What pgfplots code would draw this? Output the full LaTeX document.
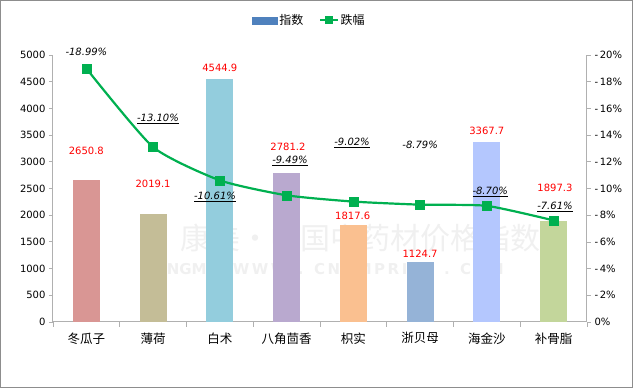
\documentclass[border=0pt]{standalone}
\usepackage{pgfplots}
\pgfplotsset{compat=1.18}
\usepackage{fontspec}
\setmainfont{DejaVu Sans}
\newfontfamily\cjk{Noto Sans CJK SC}
\definecolor{c1}{HTML}{D99694}
\definecolor{c2}{HTML}{C4BD97}
\definecolor{c3}{HTML}{93CDDD}
\definecolor{c4}{HTML}{B9A9CF}
\definecolor{c5}{HTML}{FAC090}
\definecolor{c6}{HTML}{95B3D7}
\definecolor{c7}{HTML}{B4C7FE}
\definecolor{c8}{HTML}{C3D69B}
\definecolor{legblue}{HTML}{4F81BD}
\definecolor{lgreen}{HTML}{00B050}
\definecolor{axgray}{HTML}{B0B0B0}
\begin{document}
\begin{tikzpicture}
\begin{axis}[
  scale only axis, width=534pt, height=267pt,
  xmin=-0.5, xmax=7.5, ymin=0, ymax=5000,
  axis x line*=bottom, axis y line*=left,
  axis line style={axgray, line width=1pt},
  ytick={0,500,...,5000},
  xtick={0,...,7},
  xticklabels={冬瓜子,薄荷,白术,八角茴香,枳实,浙贝母,海金沙,补骨脂},
  major x tick style={draw=none},
  minor xtick={-0.5,0.5,...,7.5},
  tick align=outside,
  tick style={axgray, line width=0.8pt},
  major tick length=4pt, minor tick length=5pt,
  clip=false,
  scaled y ticks=false,
  yticklabel style={/pgf/number format/1000 sep={}, font=\fontsize{10}{12}\selectfont},
  /pgf/number format/assume math mode=true,
  xticklabel style={font=\cjk\fontsize{12.5}{14}\selectfont, yshift=-3pt},
  legend columns=2,
  legend style={draw=none, fill=none, at={(0.48,1.13)}, anchor=center,
    font=\cjk\fontsize{12}{14}\selectfont,
    /tikz/every even column/.append style={column sep=14pt}},
]
% watermark
\node[text=black!6, font=\cjk\fontsize{30}{32}\selectfont] at (rel axis cs:0.575,0.315) {康美·中国中药材价格指数};
\node[text=black!6, font=\bfseries\fontsize{15}{16}\selectfont] at (rel axis cs:0.507,0.20) {KANGMEI\ \ W\,W\,W\ \ .\ \ C\,N\,K\,M\,P\,R\,I\,C\,E\ \ .\ \ C\,O\,M};
\addplot[ybar, bar shift=0pt, bar width=27pt, fill=c1, draw=none, forget plot] coordinates {(0,2650.8)};
\addplot[ybar, bar shift=0pt, bar width=27pt, fill=c2, draw=none, forget plot] coordinates {(1,2019.1)};
\addplot[ybar, bar shift=0pt, bar width=27pt, fill=c3, draw=none, forget plot] coordinates {(2,4544.9)};
\addplot[ybar, bar shift=0pt, bar width=27pt, fill=c4, draw=none, forget plot] coordinates {(3,2781.2)};
\addplot[ybar, bar shift=0pt, bar width=27pt, fill=c5, draw=none, forget plot] coordinates {(4,1817.6)};
\addplot[ybar, bar shift=0pt, bar width=27pt, fill=c6, draw=none, forget plot] coordinates {(5,1124.7)};
\addplot[ybar, bar shift=0pt, bar width=27pt, fill=c7, draw=none, forget plot] coordinates {(6,3367.7)};
\addplot[ybar, bar shift=0pt, bar width=27pt, fill=c8, draw=none, forget plot] coordinates {(7,1897.3)};
\addlegendimage{legend image code/.code={\fill[legblue] (0pt,-3.5pt) rectangle (25pt,3.5pt);}}
\addlegendentry{指数}
\addlegendimage{draw=lgreen, line width=2pt, mark=square*, mark size=3pt, mark options={solid, fill=lgreen}}
\addlegendentry{跌幅}
\begin{scope}[every node/.style={text=red, font=\fontsize{10}{12}\selectfont}]
\node at (axis cs:0,3202) {2650.8};
\node at (axis cs:1,2584) {2019.1};
\node at (axis cs:2,4757) {4544.9};
\node at (axis cs:3.02,3277) {2781.2};
\node at (axis cs:3.99,1985) {1817.6};
\node at (axis cs:5,1273) {1124.7};
\node at (axis cs:6,3577) {3367.7};
\node at (axis cs:7.02,2509) {1897.3};
\end{scope}
\end{axis}
\begin{axis}[
  scale only axis, width=534pt, height=267pt,
  xmin=-0.5, xmax=7.5, ymin=-20, ymax=0, y dir=reverse,
  axis x line=none, axis y line*=right,
  axis line style={axgray, line width=1pt},
  ytick={-20,-18,...,0},
  yticklabels={-\,20\%,-\,18\%,-\,16\%,-\,14\%,-\,12\%,-\,10\%,-\,8\%,-\,6\%,-\,4\%,-\,2\%,0\%},
  tick align=outside,
  tick style={axgray, line width=0.8pt},
  major tick length=4pt,
  yticklabel style={font=\fontsize{10}{12}\selectfont},
  clip=false,
]
\addplot[draw=lgreen, line width=2.2pt, smooth, tension=0.35, mark=square*, mark size=4.5pt, mark options={solid, fill=lgreen, draw=lgreen, line width=0.5pt}]
coordinates {(0,-18.99) (1,-13.10) (2,-10.61) (3,-9.49) (4,-9.02) (5,-8.79) (6,-8.70) (7,-7.61)};
\begin{scope}[every node/.style={font=\itshape\fontsize{10}{12}\selectfont}]
\node at (axis cs:0,-20.22) {-18.99\%};
\node at (axis cs:1.073,-15.21) {\underline{-13.10\%}};
\node at (axis cs:1.927,-9.36) {\underline{-10.61\%}};
\node at (axis cs:3.05,-12.06) {\underline{-9.49\%}};
\node at (axis cs:3.98,-13.41) {\underline{-9.02\%}};
\node at (axis cs:5.0,-13.26) {-8.79\%};
\node at (axis cs:6.05,-9.74) {\underline{-8.70\%}};
\node at (axis cs:7.02,-8.61) {\underline{-7.61\%}};
\end{scope}
\end{axis}
\draw[axgray!80!black, line width=1pt] (-52.5pt,-65.5pt) rectangle (579.5pt,321.5pt);
\end{tikzpicture}
\end{document}
